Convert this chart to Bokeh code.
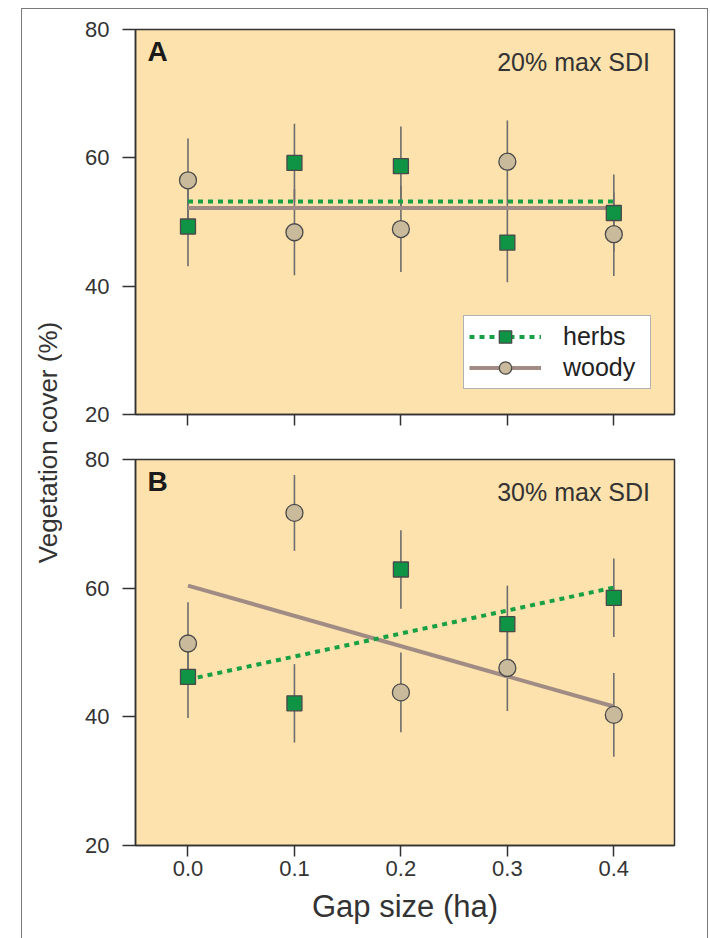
import math
from bokeh.plotting import figure
from bokeh.layouts import row, column
from bokeh.models import (Range1d, FixedTicker, PrintfTickFormatter, Label,
                          Legend, LegendItem, ColumnDataSource)
from bokeh.embed import file_html
from bokeh.resources import INLINE

# ---------------- data ----------------
gap = [0.0, 0.1, 0.2, 0.3, 0.4]
y_ticks = [20, 40, 60, 80]
fit_x = [0.0, 0.4]

# Panel A: 20% max SDI
a_herbs = [49.3, 59.2, 58.7, 46.8, 51.4]
a_herbs_err = [6.2, 6.1, 6.2, 6.2, 6.0]
a_woody = [56.5, 48.4, 48.9, 59.4, 48.1]
a_woody_err = [6.5, 6.7, 6.7, 6.4, 6.5]
a_herbs_fit = [53.2, 53.2]
a_woody_fit = [52.2, 52.2]

# Panel B: 30% max SDI
b_herbs = [46.2, 42.1, 62.9, 54.4, 58.5]
b_herbs_err = [6.4, 6.1, 6.1, 6.0, 6.1]
b_woody = [51.4, 71.7, 43.8, 47.6, 40.3]
b_woody_err = [6.4, 5.9, 6.2, 6.7, 6.5]
b_herbs_fit = [45.8, 60.1]
b_woody_fit = [60.4, 41.6]

# ---------------- style ----------------
FONT = "Liberation Sans"
BG = "#FDE2AD"
SQ_FILL = "#0F9446"
HERB_LINE = "#17A044"
CIRC_FILL = "#C9BA9B"
MK_LINE = "#4A4A4A"
ERR = "#6E6E6E"
WOODY_LINE = "#A08C84"
TXT = "#333333"
AX = "#333333"

W_LABEL = 40
W_PANEL = 645


def make_panel(herbs, herbs_err, woody, woody_err, herbs_fit, woody_fit,
               letter, subtitle, height, top, bottom, x_labels, legend):
    p = figure(width=W_PANEL, height=height,
               x_range=Range1d(-0.0493, 0.457), y_range=Range1d(20, 80),
               output_backend="svg", toolbar_location=None,
               min_border_left=73, min_border_right=33,
               min_border_top=top, min_border_bottom=bottom,
               background_fill_color=BG, border_fill_color="white")
    p.outline_line_color = AX
    p.outline_line_width = 1.5
    p.grid.visible = False

    # axes
    p.yaxis.ticker = FixedTicker(ticks=y_ticks)
    p.xaxis.ticker = FixedTicker(ticks=gap)
    p.xaxis.formatter = PrintfTickFormatter(format="%.1f")
    for ax in (p.xaxis[0], p.yaxis[0]):
        ax.axis_line_color = AX
        ax.axis_line_width = 1.5
        ax.major_tick_line_color = AX
        ax.major_tick_line_width = 1.5
        ax.major_tick_in = 0
        ax.minor_tick_line_color = None
        ax.major_label_text_font = FONT
        ax.major_label_text_font_size = "22px"
        ax.major_label_text_color = TXT
    p.yaxis.major_tick_out = 13
    p.yaxis.major_label_standoff = 13
    p.xaxis.major_tick_out = 11
    if x_labels:
        p.xaxis.major_label_standoff = 4
        p.xaxis.axis_label = "Gap size (ha)"
        p.xaxis.axis_label_text_font = FONT
        p.xaxis.axis_label_text_font_size = "31px"
        p.xaxis.axis_label_text_font_style = "normal"
        p.xaxis.axis_label_text_color = TXT
        p.xaxis.axis_label_standoff = 10
    else:
        # panel A: tick marks only, no tick labels
        p.xaxis.major_label_text_font_size = "1px"
        p.xaxis.major_label_text_color = None
        p.xaxis.major_label_standoff = 0

    hsrc = ColumnDataSource(dict(x=gap, y=herbs,
                                 lo=[m - e for m, e in zip(herbs, herbs_err)],
                                 hi=[m + e for m, e in zip(herbs, herbs_err)]))
    wsrc = ColumnDataSource(dict(x=gap, y=woody,
                                 lo=[m - e for m, e in zip(woody, woody_err)],
                                 hi=[m + e for m, e in zip(woody, woody_err)]))

    # error bars
    p.segment(x0="x", x1="x", y0="lo", y1="hi", source=wsrc,
              line_color=ERR, line_width=1.6)
    p.segment(x0="x", x1="x", y0="lo", y1="hi", source=hsrc,
              line_color=ERR, line_width=1.6)

    # fitted lines
    wl = p.line(fit_x, woody_fit, line_color=WOODY_LINE, line_width=4)
    hl = p.line(fit_x, herbs_fit, line_color=HERB_LINE, line_width=4,
                line_dash="5 5")

    # markers
    wc = p.scatter(x="x", y="y", source=wsrc, marker="circle", size=17,
                   fill_color=CIRC_FILL, line_color=MK_LINE, line_width=1.3)
    hs = p.scatter(x="x", y="y", source=hsrc, marker="square", size=15,
                   fill_color=SQ_FILL, line_color=MK_LINE, line_width=1.3)

    p.add_layout(Label(x=-0.038, y=76.6, text=letter, text_font=FONT,
                       text_font_size="28px", text_font_style="bold",
                       text_color="#1a1a1a", text_baseline="middle",
                       text_align="left"))
    p.add_layout(Label(x=0.434, y=74.9, text=subtitle, text_font=FONT,
                       text_font_size="25px", text_color=TXT,
                       text_baseline="middle", text_align="right"))

    if legend:
        lg = Legend(items=[LegendItem(label="herbs", renderers=[hl, hs]),
                           LegendItem(label="woody", renderers=[wl, wc])],
                    location=(328, 25))
        lg.label_text_font = FONT
        lg.label_text_font_size = "25px"
        lg.label_text_color = "#222222"
        lg.glyph_width = 72
        lg.glyph_height = 31
        lg.spacing = 0
        lg.padding = 5
        lg.label_standoff = 22
        lg.label_width = 82
        lg.border_line_color = "#666666"
        lg.border_line_width = 1.5
        lg.background_fill_color = "white"
        lg.background_fill_alpha = 1.0
        lg.margin = 0
        p.add_layout(lg)
    return p


pA = make_panel(a_herbs, a_herbs_err, a_woody, a_woody_err, a_herbs_fit,
                a_woody_fit, "A", "20% max SDI", height=428, top=20,
                bottom=23, x_labels=False, legend=True)
pB = make_panel(b_herbs, b_herbs_err, b_woody, b_woody_err, b_herbs_fit,
                b_woody_fit, "B", "30% max SDI", height=501, top=22,
                bottom=93, x_labels=True, legend=False)

# y-axis title column
pl = figure(width=W_LABEL, height=929, x_range=Range1d(0, W_LABEL),
            y_range=Range1d(0, 929), output_backend="svg",
            toolbar_location=None, x_axis_location=None, y_axis_location=None,
            min_border=0, outline_line_color=None)
pl.grid.visible = False
pl.add_layout(Label(x=25, y=496, text="Vegetation cover (%)",
                    angle=math.pi / 2, text_font=FONT, text_font_size="26px",
                    text_color=TXT, text_align="center",
                    text_baseline="middle"))

layout = row(pl, column(pA, pB), margin=(8, 0, 0, 21),
             styles={"border-top": "1px solid #7a7a7a",
                     "border-left": "1px solid #7a7a7a",
                     "border-right": "1px solid #7a7a7a"})

open("out.html", "w").write(file_html(layout, INLINE))
